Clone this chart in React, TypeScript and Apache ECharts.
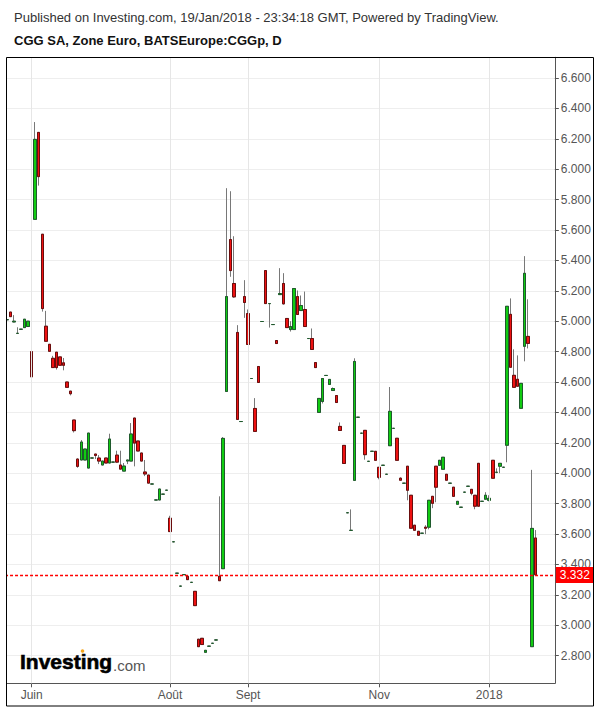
import React, { useEffect, useRef } from 'react';
import * as echarts from 'echarts';

// Daily bars (index = trading-day slot on the category axis)
const opens = [
  5.01, 5.06, 4.995, 4.92, 4.947, 4.958, 4.965, 4.80, 5.67, 6.242,
  5.572, 4.967, 4.848, 4.756, 4.796, 4.765, 4.726, 4.60, 4.54, 4.35,
  4.093, 4.087, 4.087, 4.034, 4.10, 4.126, 4.10, 4.054, 4.10, 4.067,
  4.073, 4.119, 4.054, 4.014, 4.08, 4.08, 4.363, 4.212, 4.133, 4.008,
  3.988, 3.929, 3.824, 3.824, 3.862, 3.888, 3.704, 3.549, 3.342, 3.257,
  3.333, 3.322, 3.282, 3.223, 2.908, 2.914, 2.822, 2.862, 2.881, 2.903,
  3.322, 3.372, 4.538, 5.537, 5.248, 4.926, 4.34, 5.162, 5.05, 4.623,
  4.426, 4.702, 4.998, 5.333, 5.116, 4.978, 4.873, 5.175, 5.248, 5.018,
  4.945, 4.945, 5.162, 5.07, 5.077, 4.886, 4.886, 4.728, 4.40, 4.472,
  4.643, 4.584, 4.544, 4.511, 4.308, 4.183, 3.74, 3.624, 3.953, 4.368,
  4.263, 4.282, 4.078, 4.144, 4.144, 4.039, 4.052, 3.993, 4.181, 4.295,
  4.23, 3.967, 3.934, 4.046, 3.855, 3.658, 3.618, 3.605, 3.645, 3.645,
  3.848, 4.046, 4.052, 4.026, 3.993, 3.934, 3.908, 3.796, 3.776, 3.875,
  3.914, 3.894, 3.855, 4.065, 3.815, 3.829, 3.822, 4.085, 4.006, 4.046,
  4.039, 4.184, 5.045, 4.644, 4.618, 4.427, 4.835, 4.90, 2.859, 3.574,
];
const closes = [
  5.01, 5.03, 5.0, 4.92, 4.947, 5.013, 5.0, 4.634, 6.196, 5.951,
  5.083, 4.868, 4.802, 4.695, 4.695, 4.71, 4.71, 4.565, 4.523, 4.28,
  4.045, 4.205, 4.159, 4.264, 4.10, 4.117, 4.08, 4.08, 4.067, 4.225,
  4.073, 4.073, 4.027, 4.047, 4.087, 4.258, 4.198, 4.146, 4.08, 3.995,
  3.935, 3.929, 3.824, 3.896, 3.862, 3.888, 3.616, 3.549, 3.342, 3.257,
  3.333, 3.30, 3.282, 3.129, 2.859, 2.873, 2.835, 2.862, 2.881, 2.903,
  3.293, 4.229, 5.162, 5.333, 5.16, 4.354, 4.34, 5.123, 4.847, 4.623,
  4.275, 4.597, 4.998, 5.116, 5.116, 4.978, 4.853, 5.182, 5.114, 4.958,
  4.965, 5.215, 5.044, 5.103, 4.965, 4.886, 4.814, 4.695, 4.492, 4.623,
  4.643, 4.617, 4.557, 4.465, 4.281, 4.064, 3.74, 3.624, 4.735, 4.368,
  4.263, 4.122, 4.078, 4.144, 4.085, 3.973, 4.052, 3.993, 4.407, 4.295,
  4.085, 3.954, 3.934, 3.888, 3.638, 3.625, 3.592, 3.605, 3.638, 3.822,
  3.802, 3.908, 4.085, 4.105, 3.954, 3.934, 3.848, 3.815, 3.776, 3.875,
  3.914, 3.868, 3.783, 3.783, 3.815, 3.855, 3.835, 3.967, 4.006, 4.065,
  4.039, 5.098, 4.697, 4.565, 4.572, 4.591, 5.315, 4.854, 3.637, 3.332,
];
const lows = [
  5.01, 5.03, 4.993, 4.92, 4.947, 4.958, 4.965, 4.557, 5.67, 5.892,
  5.063, 4.868, 4.802, 4.695, 4.682, 4.71, 4.677, 4.565, 4.512, 4.268,
  4.036, 4.087, 4.087, 4.034, 4.10, 4.093, 4.06, 4.054, 4.067, 4.067,
  4.073, 4.067, 4.027, 4.014, 4.06, 4.08, 4.045, 4.146, 4.08, 3.981,
  3.935, 3.929, 3.824, 3.824, 3.862, 3.888, 3.616, 3.549, 3.342, 3.257,
  3.333, 3.30, 3.282, 3.129, 2.859, 2.873, 2.822, 2.862, 2.881, 2.903,
  3.293, 3.372, 4.538, 5.292, 5.154, 4.354, 4.34, 5.022, 4.847, 4.623,
  4.275, 4.597, 4.998, 5.116, 4.958, 4.978, 4.853, 5.175, 5.11, 4.958,
  4.932, 4.945, 5.044, 5.07, 4.965, 4.886, 4.814, 4.695, 4.40, 4.459,
  4.643, 4.584, 4.544, 4.465, 4.281, 4.064, 3.74, 3.624, 3.953, 4.368,
  4.263, 4.089, 4.078, 4.144, 4.085, 3.96, 4.052, 3.993, 4.181, 4.295,
  4.085, 3.954, 3.934, 3.822, 3.638, 3.625, 3.592, 3.605, 3.599, 3.631,
  3.77, 3.809, 4.052, 4.026, 3.954, 3.934, 3.848, 3.796, 3.776, 3.875,
  3.914, 3.855, 3.763, 3.783, 3.815, 3.829, 3.815, 3.967, 4.0, 4.0,
  4.039, 4.072, 4.697, 4.565, 4.572, 4.427, 4.736, 4.821, 2.859, 3.332,
];
const highs = [
  5.01, 5.06, 5.04, 4.96, 4.947, 5.013, 5.0, 4.81, 6.31, 6.242,
  5.572, 5.068, 4.848, 4.772, 4.796, 4.765, 4.758, 4.60, 4.54, 4.35,
  4.097, 4.218, 4.159, 4.264, 4.10, 4.126, 4.119, 4.08, 4.10, 4.26,
  4.073, 4.148, 4.148, 4.067, 4.087, 4.33, 4.363, 4.212, 4.133, 4.087,
  3.988, 3.929, 3.824, 3.896, 3.862, 3.888, 3.72, 3.549, 3.342, 3.257,
  3.333, 3.322, 3.282, 3.223, 2.908, 2.914, 2.835, 2.862, 2.881, 2.903,
  3.848, 4.238, 5.875, 5.855, 5.559, 4.974, 4.34, 5.27, 5.077, 4.623,
  4.494, 4.702, 4.998, 5.333, 5.116, 4.978, 4.873, 5.349, 5.316, 5.018,
  5.0, 5.215, 5.202, 5.169, 5.195, 4.886, 4.952, 4.728, 4.492, 4.623,
  4.643, 4.617, 4.564, 4.511, 4.334, 4.183, 3.74, 3.762, 4.756, 4.368,
  4.263, 4.282, 4.078, 4.144, 4.144, 4.039, 4.052, 3.993, 4.567, 4.295,
  4.23, 3.973, 3.934, 4.046, 3.855, 3.658, 3.618, 3.605, 3.658, 3.822,
  3.848, 4.046, 4.085, 4.105, 3.993, 3.934, 3.908, 3.815, 3.776, 3.875,
  3.914, 3.894, 3.855, 4.065, 3.815, 3.875, 3.855, 4.085, 4.032, 4.065,
  4.039, 5.098, 5.15, 4.815, 4.775, 4.591, 5.428, 5.144, 4.022, 3.626,
];

const slotCount = 155;
const xTickIndex = [7, 46, 68, 105, 136];
const xTickLabels = ['Juin', 'Août', 'Sept', 'Nov', '2018'];
const lastPrice = 3.332;

const FONT = '"Liberation Sans", Arial, sans-serif';

export default function App() {
  const ref = useRef<HTMLDivElement>(null);

  useEffect(() => {
    const chart = echarts.init(ref.current!, null, { renderer: 'svg' });
    const categories = Array.from({ length: slotCount }, (_, i) => 'b' + i);
    const wickData = opens.map((o, i) => [o, closes[i], lows[i], highs[i]]);
    const bodyData = opens.map((o, i) => [o, closes[i], Math.min(o, closes[i]), Math.max(o, closes[i])]);
    const isTick = (i: number) => xTickIndex.indexOf(i) >= 0;

    chart.setOption({
      animation: false,
      backgroundColor: '#ffffff',
      grid: {
        left: 5.03,
        width: 549.8,
        top: 57.3,
        bottom: 24.7,
        containLabel: false,
        outerBoundsMode: 'none',
      },
      xAxis: {
        type: 'category',
        data: categories,
        boundaryGap: true,
        axisLine: { show: true, lineStyle: { color: '#555555', width: 1 } },
        axisTick: {
          show: true,
          alignWithLabel: true,
          length: 4,
          interval: (i: number) => isTick(i),
          lineStyle: { color: '#555555' },
        },
        axisLabel: {
          show: true,
          interval: (i: number) => isTick(i),
          formatter: (_v: string, i: number) => {
            const k = xTickIndex.indexOf(i);
            return k >= 0 ? xTickLabels[k] : '';
          },
          color: '#555555',
          fontSize: 12,
          fontFamily: FONT,
          margin: 6,
        },
        splitLine: { show: false },
      },
      yAxis: {
        type: 'value',
        position: 'right',
        min: 2.618,
        max: 6.736,
        splitNumber: 20,
        axisLine: { show: true, lineStyle: { color: '#555555', width: 1 } },
        axisTick: { show: true, length: 4, lineStyle: { color: '#555555' } },
        axisLabel: {
          color: '#555555',
          fontSize: 12,
          fontFamily: FONT,
          margin: 6,
          showMinLabel: false,
          showMaxLabel: false,
          formatter: (v: number) => (Math.abs(v * 5 - Math.round(v * 5)) < 1e-6 ? v.toFixed(3) : ''),
        },
        splitLine: { show: true, lineStyle: { color: '#eeeeee', width: 1 } },
      },
      series: [
        {
          name: 'wicks',
          type: 'candlestick',
          data: wickData,
          barWidth: 3,
          z: 2,
          itemStyle: {
            color: '#11cc11',
            color0: '#ee1111',
            borderColor: '#787878',
            borderColor0: '#787878',
            borderColorDoji: '#787878',
            borderWidth: 1,
          },
          emphasis: { disabled: true },
          markLine: {
            silent: true,
            symbol: ['none', 'none'],
            label: { show: false },
            lineStyle: { color: '#e6e6e6', type: 'solid', width: 1 },
            emphasis: { disabled: true },
            data: xTickIndex.map((i) => ({ xAxis: categories[i] })),
          },
        },
        {
          name: 'CGGp',
          type: 'candlestick',
          data: bodyData,
          barWidth: 3,
          z: 3,
          itemStyle: {
            color: '#11cc11',
            color0: '#ee1111',
            borderColor: '#1e5a2c',
            borderColor0: '#6a0d0d',
            borderColorDoji: '#1e5a2c',
            borderWidth: 1,
          },
          emphasis: { disabled: true },
        },
        {
          name: 'last',
          type: 'line',
          data: [],
          z: 4,
          color: '#ff0000',
          markLine: {
            silent: true,
            symbol: ['none', 'none'],
            lineStyle: { color: '#ff0000', type: [3, 2], width: 1.4, opacity: 1 },
            emphasis: { disabled: true },
            label: {
              show: true,
              position: 'end',
              distance: 1,
              formatter: () => lastPrice.toFixed(3),
              color: '#ffffff',
              backgroundColor: '#ff0000',
              padding: [2, 4, 2, 4],
              fontSize: 12,
              fontFamily: FONT,
            },
            data: [{ yAxis: lastPrice }],
          },
        },
      ],
      graphic: [
        {
          type: 'rect',
          z: 100,
          silent: true,
          shape: { x: 0, y: 50, width: 6.2, height: 650 },
          style: { fill: '#ffffff' },
        },
        {
          type: 'rect',
          z: 101,
          silent: true,
          shape: { x: 6.5, y: 57.5, width: 587, height: 648.5 },
          style: { fill: 'none', stroke: '#000000', lineWidth: 1 },
        },
        {
          type: 'text',
          z: 101,
          x: 14,
          y: 17,
          style: {
            text: 'Published on Investing.com, 19/Jan/2018 - 23:34:18 GMT, Powered by TradingView.',
            fontSize: 13,
            fontFamily: FONT,
            fill: '#333333',
            verticalAlign: 'middle',
          },
        },
        {
          type: 'text',
          z: 101,
          x: 14,
          y: 40,
          style: {
            text: 'CGG SA, Zone Euro, BATSEurope:CGGp, D',
            fontSize: 13,
            fontWeight: 'bold',
            fontFamily: FONT,
            fill: '#111111',
            verticalAlign: 'middle',
          },
        },
        {
          type: 'text',
          z: 51,
          x: 20,
          y: 661,
          style: {
            text: 'Investing',
            fontSize: 21,
            fontWeight: 'bold',
            fontFamily: FONT,
            fill: '#000000',
            stroke: '#000000',
            lineWidth: 0.6,
            verticalAlign: 'middle',
            textShadowColor: 'rgba(60,60,60,0.7)',
            textShadowOffsetX: 1,
            textShadowOffsetY: 3,
            textShadowBlur: 0,
          },
        },
        {
          type: 'circle',
          z: 52,
          shape: { cx: 82.5, cy: 651, r: 1.8 },
          style: { fill: '#f4a51c' },
        },
        {
          type: 'text',
          z: 51,
          x: 113,
          y: 665,
          style: {
            text: '.com',
            fontSize: 15,
            fontFamily: FONT,
            fill: '#555555',
            verticalAlign: 'middle',
          },
        },
      ],
    });

    return () => {
      chart.dispose();
    };
  }, []);

  return (
    <div
      ref={ref}
      style={{ position: 'absolute', left: 0, top: 0, width: 600, height: 708 }}
    />
  );
}
